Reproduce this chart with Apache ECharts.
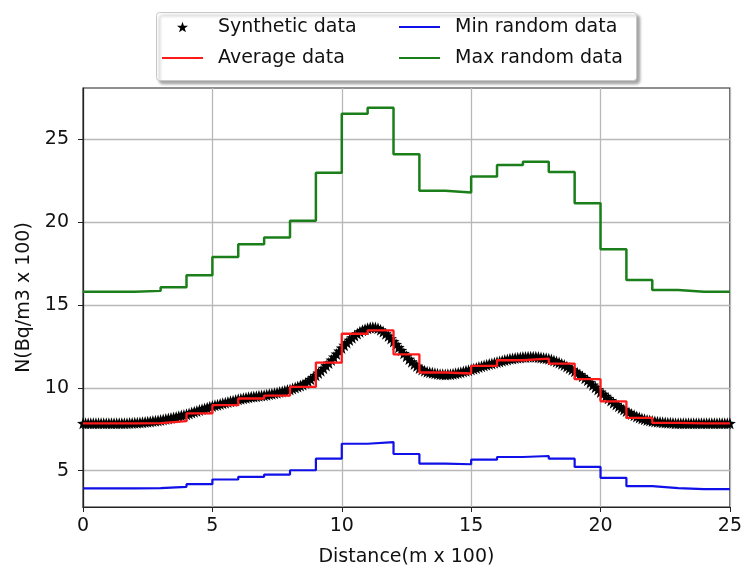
<!DOCTYPE html>
<html>
<head>
<meta charset="utf-8">
<script src="https://cdn.jsdelivr.net/npm/echarts@6/dist/echarts.min.js"></script>
<style>
html,body{margin:0;padding:0;background:#fff;}
#chart{width:745px;height:572px;}
</style>
</head>
<body>
<div id="chart"></div>
<script>
// ---- data ----
var stepEdges = [0,1,2,3,4,5,6,7,8,9,10,11,12,13,14,15,16,17,18,19,20,21,22,23,24,25];
var maxRandom = [15.8,15.8,15.85,16.07,16.8,17.9,18.67,19.08,20.08,22.99,26.55,26.9,24.1,21.89,21.79,22.75,23.45,23.65,23.03,21.14,18.37,16.5,15.9,15.8,15.8];
var avgData   = [7.85,7.85,7.87,7.98,8.45,8.95,9.35,9.53,10.05,11.52,13.26,13.46,12.02,10.92,10.86,11.32,11.66,11.76,11.46,10.52,9.18,8.18,7.88,7.85,7.85];
var minRandom = [3.92,3.92,3.94,4.02,4.18,4.46,4.62,4.76,5.02,5.72,6.62,6.72,6.0,5.42,5.38,5.66,5.82,5.88,5.72,5.22,4.56,4.06,3.94,3.88,3.88];

// synthetic data sampled every 0.1 (x = index * synthStep), from 0 to 25
var synthStep = 0.1;
var synthY = [
7.85,7.85,7.85,7.85,7.85,7.85,7.85,7.85,7.85,7.85,7.85,7.85,7.85,7.85,7.85,7.85,7.86,7.86,7.87,7.87,7.88,
7.89,7.9,7.92,7.93,7.95,7.97,7.99,8.01,8.03,8.05,
8.08,8.11,8.14,8.17,8.2,8.24,8.28,8.32,8.36,8.4,
8.45,8.5,8.55,8.6,8.65,8.7,8.75,8.8,8.85,8.9,
8.94,8.98,9.02,9.06,9.1,9.14,9.18,9.22,9.26,9.3,
9.33,9.36,9.39,9.42,9.45,9.47,9.49,9.51,9.53,9.55,
9.58,9.61,9.64,9.67,9.7,9.74,9.78,9.82,9.86,9.9,
9.95,10.01,10.07,10.13,10.2,10.29,10.39,10.51,10.63,10.75,
10.89,11.03,11.18,11.34,11.5,11.68,11.86,12.04,12.22,12.4,
12.57,12.73,12.88,13.02,13.15,13.27,13.38,13.47,13.54,13.6,
13.64,13.65,13.64,13.59,13.5,13.39,13.26,13.12,12.97,12.8,
12.62,12.44,12.26,12.08,11.9,11.73,11.57,11.43,11.31,11.2,
11.11,11.03,10.97,10.93,10.9,10.87,10.84,10.82,10.81,10.8,
10.81,10.82,10.84,10.87,10.9,10.94,10.98,11.02,11.06,11.1,
11.15,11.2,11.25,11.3,11.35,11.39,11.43,11.47,11.51,11.55,
11.59,11.63,11.67,11.71,11.75,11.77,11.79,11.81,11.83,11.85,
11.86,11.87,11.87,11.87,11.87,11.85,11.83,11.8,11.78,11.75,
11.7,11.65,11.59,11.52,11.45,11.37,11.29,11.2,11.1,11.0,
10.9,10.8,10.69,10.57,10.45,10.31,10.17,10.03,9.89,9.75,
9.62,9.49,9.36,9.23,9.1,8.99,8.88,8.78,8.69,8.6,
8.51,8.42,8.34,8.27,8.2,8.15,8.1,8.06,8.03,8.0,
7.97,7.95,7.93,7.91,7.9,7.89,7.88,7.87,7.86,7.85,
7.85,7.85,7.85,7.85,7.85,7.85,7.85,7.85,7.85,7.85,
7.85,7.85,7.85,7.85,7.85,7.85,7.85,7.85,7.85,7.85
];

var xTicks = [0,5,10,15,20,25];
var yTicks = [5,10,15,20,25];

// ---- build ----
function stepPoints(vals){
  var pts = [];
  for (var i=0;i<vals.length;i++) pts.push([stepEdges[i], vals[i]]);
  pts.push([stepEdges[vals.length], vals[vals.length-1]]);
  return pts;
}
var synthPts = synthY.map(function(v,i){return [+(i*synthStep).toFixed(2), v];});

var star = 'path://M10 0 L12.35 6.76 L19.51 6.91 L13.80 11.24 L15.88 18.09 L10 14 L4.12 18.09 L6.20 11.24 L0.49 6.91 L7.65 6.76 Z';
var starIcon = 'path://M-4 -3 M24 21 M10 0 L12.35 6.76 L19.51 6.91 L13.80 11.24 L15.88 18.09 L10 14 L4.12 18.09 L6.20 11.24 L0.49 6.91 L7.65 6.76 Z';
var lineIcon = 'path://M0 0 L40 0 L40 2 L0 2 Z';
var FONT = 'DejaVu Sans';
var FS = 19;

var legendText = {fontFamily:FONT, fontSize:FS, color:'#111', lineHeight:22, padding:[0,0,0,10]};

var chart = echarts.init(document.getElementById('chart'), null, {renderer:'canvas'});
chart.setOption({
  animation:false,
  backgroundColor:'#fff',
  textStyle:{fontFamily:FONT},
  graphic:[{
    type:'rect', left:156, top:12, z:-1,
    shape:{width:480, height:68, r:3},
    style:{fill:'#fff', stroke:'#c8c8c8', lineWidth:1, shadowBlur:3, shadowOffsetX:3, shadowOffsetY:3, shadowColor:'rgba(0,0,0,0.35)'}
  }],
  legend:[{
    orient:'vertical', left:162, top:16, padding:0, itemWidth:41, itemHeight:14, itemGap:9,
    textStyle:legendText,
    data:[{name:'Synthetic data', icon: starIcon, itemStyle:{color:'#000', opacity:1}},
          {name:'Average data', icon: lineIcon}]
  },{
    orient:'vertical', left:399, top:16, padding:0, itemWidth:41, itemHeight:14, itemGap:9,
    textStyle:legendText,
    data:[{name:'Min random data', icon: lineIcon},{name:'Max random data', icon: lineIcon}]
  }],
  grid:{left:83, right:12, top:88, bottom:62, show:true, borderColor:'#222', borderWidth:1.2, backgroundColor:'transparent'},
  xAxis:{
    type:'value', min:0, max:25, interval:5,
    name:'Distance(m x 100)', nameLocation:'middle', nameGap:41,
    nameTextStyle:{fontFamily:FONT, fontSize:FS, color:'#111'},
    axisLine:{show:true, lineStyle:{color:'#222', width:1.2}},
    axisTick:{show:true, length:5, inside:false, lineStyle:{color:'#222'}},
    axisLabel:{fontFamily:FONT, fontSize:FS, color:'#111', margin:10},
    splitLine:{show:true, lineStyle:{color:'#b8b8b8', width:1.3}}
  },
  yAxis:{
    type:'value', min:2.8, max:28.1,
    name:'N(Bq/m3 x 100)', nameLocation:'middle', nameGap:47,
    nameTextStyle:{fontFamily:FONT, fontSize:FS, color:'#111'},
    axisLine:{show:true, lineStyle:{color:'#222', width:1.2}},
    axisTick:{show:true, length:5, inside:false, lineStyle:{color:'#222'}, customValues:yTicks},
    axisLabel:{fontFamily:FONT, fontSize:FS, color:'#111', margin:14, customValues:yTicks},
    splitLine:{show:true, lineStyle:{color:'#b8b8b8', width:1.3}}
  },
  series:[{
    name:'Synthetic data', type:'scatter', data:synthPts, clip:true,
    symbol:star, symbolSize:12, itemStyle:{color:'#000', opacity:1}, z:2
  },{
    name:'Average data', type:'line', step:'end', data:stepPoints(avgData),
    showSymbol:false, symbol:'none', lineStyle:{color:'#ff1a1a', width:2.3}, itemStyle:{color:'#ff1a1a'}, z:3
  },{
    name:'Min random data', type:'line', step:'end', data:stepPoints(minRandom),
    showSymbol:false, symbol:'none', lineStyle:{color:'#1010e8', width:2.2}, itemStyle:{color:'#1010e8'}, z:3
  },{
    name:'Max random data', type:'line', step:'end', data:stepPoints(maxRandom),
    showSymbol:false, symbol:'none', lineStyle:{color:'#1a7f1a', width:2.5}, itemStyle:{color:'#1a7f1a'}, z:3
  }]
});
</script>
</body>
</html>
